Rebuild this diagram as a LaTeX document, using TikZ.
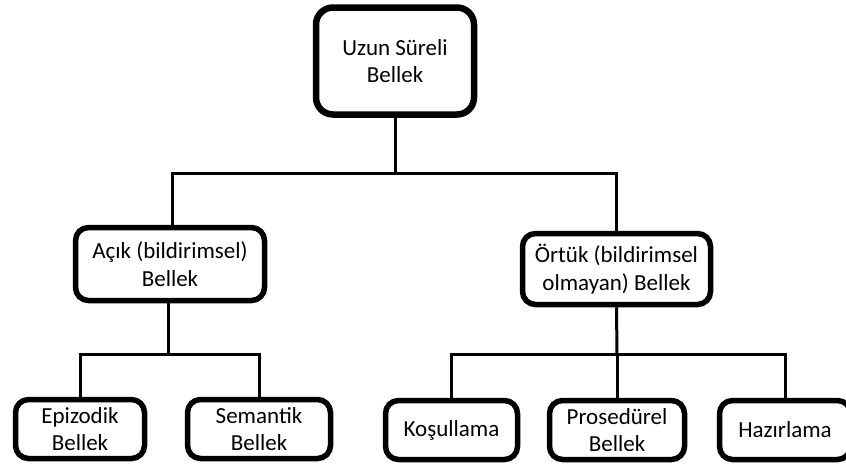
\documentclass[tikz,border=0pt]{standalone}
\usepackage{fontspec}
\setmainfont{Carlito}
\begin{document}
\begin{tikzpicture}[x=1pt,y=-1pt,
  box/.style={draw=black,line width=5.5pt,rounded corners=13pt,fill=white,align=center,
    font=\fontsize{23}{27.5}\selectfont,inner sep=0pt},
  conn/.style={draw=black,line width=3pt}]
\useasboundingbox (0,0) rectangle (846,464);
\node[box,minimum width=158pt,minimum height=107pt,rounded corners=17pt,line width=6.5pt] (top) at (395,61) {Uzun Süreli\\Bellek};
\node[box,minimum width=189pt,minimum height=73pt] (acik) at (170,264) {Açık (bildirimsel)\\Bellek};
\node[box,minimum width=188pt,minimum height=71pt] (ortuk) at (616.5,269) {Örtük (bildirimsel\\olmayan) Bellek};
\node[box,minimum width=129pt,minimum height=59pt] (epi) at (80,429) {Epizodik\\Bellek};
\node[box,minimum width=143pt,minimum height=59pt] (sem) at (259,429) {Semantik\\Bellek};
\node[box,minimum width=132pt,minimum height=59pt] (kos) at (451.5,430) {Koşullama};
\node[box,minimum width=135pt,minimum height=59pt] (pro) at (617,430) {Prosedürel\\Bellek};
\node[box,minimum width=131pt,minimum height=59pt] (haz) at (785,430) {Hazırlama};
\coordinate (j1) at (395,173);
\coordinate (ja) at (172,173);
\coordinate (j2) at (168,354);
\coordinate (j3) at (617,354);
\draw[conn] (top.south) -- (j1);
\draw[conn] (acik.north -| ja) -- (ja) -- (j1) -| (ortuk.north);
\draw[conn] (acik.south -| j2) -- (j2);
\draw[conn] (epi.north) |- (j2) -| (sem.north);
\draw[conn] (ortuk.south) -- (j3);
\draw[conn] (kos.north) |- (j3) -| (haz.north);
\draw[conn] (pro.north) -- (j3);
\end{tikzpicture}
\end{document}
